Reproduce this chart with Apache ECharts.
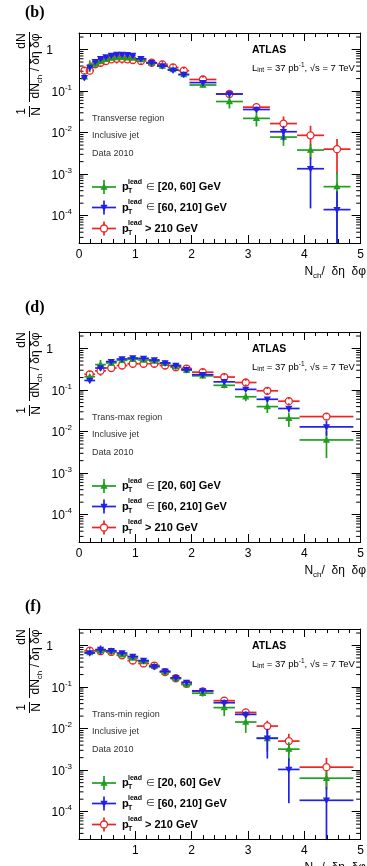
<!DOCTYPE html>
<html>
<head>
<meta charset="utf-8">
<script src="https://cdn.jsdelivr.net/npm/echarts@6/dist/echarts.min.js"></script>
<style>html,body{margin:0;padding:0;background:#fff}#chart{width:367px;height:866px}</style>
</head>
<body>
<div id="chart"></div>
<script>
// 数据：三个区域（transverse / trans-max / trans-min），三个 pT lead 区间
var transX = [0.096, 0.191, 0.287, 0.382, 0.478, 0.573, 0.669, 0.764, 0.860, 0.955, 1.10, 1.29, 1.48, 1.67, 1.86, 2.20, 2.67, 3.15, 3.63, 4.11, 4.58];
var transHalfW = [0.048, 0.048, 0.048, 0.048, 0.048, 0.048, 0.048, 0.048, 0.048, 0.048, 0.096, 0.096, 0.096, 0.096, 0.096, 0.239, 0.239, 0.239, 0.239, 0.239, 0.239];
var transGreen = [0.22, 0.42, 0.45, 0.52, 0.58, 0.62, 0.64, 0.65, 0.63, 0.62, 0.57, 0.47, 0.40, 0.33, 0.25, 0.14, 0.056, 0.022, 0.0078, 0.0038, 0.0005];
var transGreenErr = [0.04, 0.13, 0.08, 0.08, 0.08, 0.08, 0.08, 0.07, 0.07, 0.06, 0.05, 0.04, 0.03, 0.03, 0.03, 0.02, 0.018, 0.008, 0.003, 0.0015, 0.0006];
var transBlue = [0.21, 0.37, 0.51, 0.60, 0.66, 0.72, 0.76, 0.76, 0.75, 0.72, 0.60, 0.48, 0.40, 0.32, 0.25, 0.16, 0.085, 0.036, 0.0105, 0.00135, 0.00014];
var transBlueErr = [0.02, 0.04, 0.04, 0.04, 0.04, 0.05, 0.05, 0.05, 0.05, 0.05, 0.04, 0.03, 0.03, 0.03, 0.03, 0.015, 0.01, 0.006, 0.004, 0.0012, 0.00025];
var transRed = [0.31, 0.31, 0.44, 0.48, 0.53, 0.58, 0.60, 0.60, 0.58, 0.56, 0.53, 0.48, 0.44, 0.37, 0.31, 0.19, 0.085, 0.041, 0.0165, 0.0086, 0.004];
var transRedErr = [0.04, 0.06, 0.06, 0.07, 0.08, 0.1, 0.14, 0.14, 0.1, 0.08, 0.06, 0.04, 0.04, 0.04, 0.03, 0.02, 0.012, 0.008, 0.008, 0.006, 0.003];

var sideX = [0.191, 0.382, 0.573, 0.764, 0.955, 1.146, 1.337, 1.528, 1.719, 1.910, 2.196, 2.578, 2.960, 3.343, 3.725, 4.393];
var sideHalfW = [0.0955, 0.0955, 0.0955, 0.0955, 0.0955, 0.0955, 0.0955, 0.0955, 0.0955, 0.0955, 0.191, 0.191, 0.191, 0.191, 0.191, 0.478];

var maxGreen = [0.21, 0.41, 0.45, 0.52, 0.55, 0.53, 0.50, 0.44, 0.37, 0.30, 0.22, 0.13, 0.069, 0.040, 0.021, 0.0063];
var maxGreenErr = [0.03, 0.12, 0.06, 0.06, 0.06, 0.06, 0.05, 0.05, 0.04, 0.04, 0.03, 0.02, 0.015, 0.012, 0.008, 0.004];
var maxBlue = [0.17, 0.34, 0.485, 0.56, 0.59, 0.58, 0.53, 0.45, 0.39, 0.31, 0.235, 0.158, 0.104, 0.060, 0.036, 0.013];
var maxBlueErr = [0.02, 0.04, 0.04, 0.04, 0.04, 0.04, 0.04, 0.03, 0.03, 0.03, 0.02, 0.015, 0.01, 0.008, 0.006, 0.005];
var maxRed = [0.24, 0.29, 0.34, 0.39, 0.43, 0.43, 0.43, 0.39, 0.355, 0.33, 0.27, 0.206, 0.152, 0.096, 0.054, 0.023];
var maxRedErr = [0.03, 0.07, 0.06, 0.06, 0.07, 0.07, 0.06, 0.05, 0.04, 0.04, 0.03, 0.02, 0.015, 0.01, 0.006, 0.003];

var minGreen = [0.68, 0.75, 0.72, 0.60, 0.50, 0.41, 0.32, 0.23, 0.16, 0.115, 0.071, 0.032, 0.0144, 0.0058, 0.0032, 0.00064];
var minGreenErr = [0.05, 0.08, 0.06, 0.06, 0.05, 0.04, 0.03, 0.03, 0.02, 0.015, 0.012, 0.012, 0.0065, 0.003, 0.0015, 0.0003];
var minBlue = [0.66, 0.80, 0.75, 0.66, 0.545, 0.435, 0.31, 0.24, 0.167, 0.13, 0.081, 0.042, 0.022, 0.0059, 0.00104, 0.000188];
var minBlueErr = [0.04, 0.2, 0.05, 0.05, 0.04, 0.03, 0.03, 0.03, 0.02, 0.015, 0.01, 0.008, 0.004, 0.004, 0.00088, 0.0002];
var minRed = [0.75, 0.73, 0.70, 0.58, 0.435, 0.37, 0.33, 0.23, 0.163, 0.12, 0.079, 0.047, 0.0245, 0.0115, 0.005, 0.00118];
var minRedErr = [0.06, 0.12, 0.08, 0.08, 0.06, 0.05, 0.04, 0.03, 0.025, 0.02, 0.012, 0.008, 0.005, 0.004, 0.0025, 0.0008];

var panelTags = ['(b)', '(d)', '(f)'];
var panelTagY = [13, 308, 607];
var regionNames = ['Transverse region', 'Trans-max region', 'Trans-min region'];
var legendTexts = ['[20, 60] GeV', '[60, 210] GeV', '> 210 GeV'];
var xTickLabels = ['0', '1', '2', '3', '4', '5'];

var Y_MIN = 2.2e-5, Y_MAX = 2.5;
var GREEN = '#1f9e1f', BLUE = '#2020e8', RED = '#ee2424';
var FONT = '"Liberation Sans", Arial, Helvetica, sans-serif';
var tops = [33, 332, 629];
var GH = 210, GL = 79, GW = 283;

var myChart = echarts.init(document.getElementById('chart'));

var panels = [
    {x: transX, w: transHalfW, g: transGreen, ge: transGreenErr, b: transBlue, be: transBlueErr, r: transRed, re: transRedErr},
    {x: sideX, w: sideHalfW, g: maxGreen, ge: maxGreenErr, b: maxBlue, be: maxBlueErr, r: maxRed, re: maxRedErr},
    {x: sideX, w: sideHalfW, g: minGreen, ge: minGreenErr, b: minBlue, be: minBlueErr, r: minRed, re: minRedErr}
];

function marker(kind, cx, cy, color) {
    if (kind === 'up') {
        return {type: 'polygon', shape: {points: [[cx, cy - 3.8], [cx - 3.6, cy + 2.7], [cx + 3.6, cy + 2.7]]}, style: {fill: color}};
    }
    if (kind === 'down') {
        return {type: 'polygon', shape: {points: [[cx, cy + 3.8], [cx - 3.6, cy - 2.7], [cx + 3.6, cy - 2.7]]}, style: {fill: color}};
    }
    return {type: 'circle', shape: {cx: cx, cy: cy, r: 3.5}, style: {fill: 'none', stroke: color, lineWidth: 1.3}};
}

function seg(x1, y1, x2, y2, color) {
    return {type: 'line', shape: {x1: x1, y1: y1, x2: x2, y2: y2}, style: {stroke: color, lineWidth: 1.7}};
}

function dataSeries(pi, xs, hw, ys, es, color, kind, z) {
    var rows = xs.map(function (x, i) { return [x, x - hw[i], x + hw[i], ys[i], es[i]]; });
    return {
        type: 'custom', xAxisIndex: pi * 2, yAxisIndex: pi * 2, z: z,
        data: rows,
        renderItem: function (params, api) {
            var cs = params.coordSys;
            var x = api.value(0), y = api.value(3), e = api.value(4);
            var p = api.coord([x, y]);
            var xl = api.coord([api.value(1), y])[0], xr = api.coord([api.value(2), y])[0];
            var hiY = Math.max(api.coord([x, y + e])[1], cs.y);
            var loY = (y - e) > Y_MIN ? api.coord([x, y - e])[1] : cs.y + cs.height;
            var gap = kind === 'circle' ? 3.5 : 0;
            return {type: 'group', children: [
                seg(xl, p[1], p[0] - gap, p[1], color),
                seg(p[0] + gap, p[1], xr, p[1], color),
                seg(p[0], hiY, p[0], p[1] - gap, color),
                seg(p[0], p[1] + gap, p[0], loY, color),
                marker(kind, p[0], p[1], color)
            ]};
        }
    };
}

// 对数轴的小刻度 2..9
var minorVals = [];
for (var k = -5; k <= 0; k++) {
    for (var m = 2; m <= 9; m++) {
        var v = m * Math.pow(10, k);
        if (v > Y_MIN && v < Y_MAX) minorVals.push(v);
    }
}

function minorSeries(pi) {
    return {
        type: 'custom', xAxisIndex: pi * 2, yAxisIndex: pi * 2, z: 1, silent: true,
        data: minorVals.map(function (v) { return [0, v]; }),
        renderItem: function (params, api) {
            var cs = params.coordSys;
            var py = api.coord([0, api.value(1)])[1];
            return {type: 'group', children: [
                {type: 'line', shape: {x1: cs.x, y1: py, x2: cs.x + 4.5, y2: py}, style: {stroke: '#000', lineWidth: 1}},
                {type: 'line', shape: {x1: cs.x + cs.width - 4.5, y1: py, x2: cs.x + cs.width, y2: py}, style: {stroke: '#000', lineWidth: 1}}
            ]};
        }
    };
}

var grids = [], xAxes = [], yAxes = [], series = [], graphics = [];
var lineStyle = {color: '#000', width: 1};

panels.forEach(function (pd, i) {
    var top = tops[i];
    grids.push({left: GL, top: top, width: GW, height: GH});
    ['bottom', 'top'].forEach(function (pos) {
        xAxes.push({
            gridIndex: i, type: 'value', min: 0, max: 5, interval: 1, position: pos,
            axisLine: {onZero: false, lineStyle: lineStyle},
            axisTick: {inside: true, length: 8, lineStyle: lineStyle},
            minorTick: {show: true, splitNumber: 5, length: 4, lineStyle: lineStyle},
            splitLine: {show: false},
            axisLabel: {
                show: pos === 'bottom', color: '#000', fontSize: 12, fontFamily: FONT, margin: 6,
                showMinLabel: i < 2,
                formatter: function (v) { return xTickLabels[Math.round(v)]; }
            }
        });
    });
    ['left', 'right'].forEach(function (pos) {
        yAxes.push({
            gridIndex: i, type: 'log', logBase: 10, min: Y_MIN, max: Y_MAX, position: pos,
            axisLine: {onZero: false, lineStyle: lineStyle},
            axisTick: {inside: true, length: 9, lineStyle: lineStyle},
            splitLine: {show: false},
            axisLabel: {
                show: pos === 'left', margin: 7, showMinLabel: false, showMaxLabel: false,
                formatter: function (v) {
                    var e = Math.round(Math.log(v) / Math.LN10);
                    if (e === 0) return '{b|1}{pad|}';
                    return '{b|10}{s|' + e + '}';
                },
                rich: {
                    b: {fontSize: 12, fontFamily: FONT, color: '#000', lineHeight: 15, verticalAlign: 'bottom'},
                    s: {fontSize: 8, fontFamily: FONT, color: '#000', lineHeight: 8, verticalAlign: 'top'},
                    pad: {width: 19}
                }
            }
        });
    });

    series.push(minorSeries(i));
    series.push(dataSeries(i, pd.x, pd.w, pd.r, pd.re, RED, 'circle', 3));
    series.push(dataSeries(i, pd.x, pd.w, pd.g, pd.ge, GREEN, 'up', 4));
    series.push(dataSeries(i, pd.x, pd.w, pd.b, pd.be, BLUE, 'down', 5));

    // 面板标签
    graphics.push({type: 'text', x: 25, y: panelTagY[i], style: {text: panelTags[i], font: 'bold 16px "Liberation Serif", "DejaVu Serif", serif', fill: '#000', verticalAlign: 'middle'}});

    // y 轴标题（旋转）
    var tc = top + 33;
    graphics.push({type: 'line', shape: {x1: 29.5, y1: top - 1, x2: 29.5, y2: top + 69}, style: {stroke: '#000', lineWidth: 1}});
    graphics.push({type: 'line', shape: {x1: 29.5, y1: top + 73, x2: 29.5, y2: top + 84}, style: {stroke: '#000', lineWidth: 1}});
    graphics.push({type: 'text', x: 22, y: top + 8, rotation: Math.PI / 2, style: {text: 'dN', font: '12px ' + FONT, fill: '#000', align: 'center', verticalAlign: 'middle'}});
    graphics.push({type: 'text', x: 37, y: tc, rotation: Math.PI / 2, style: {
        text: '{t|dN}{sb|ch}{t| / δη δφ}', align: 'center', verticalAlign: 'middle',
        rich: {t: {fontSize: 12, fontFamily: FONT, fill: '#000', lineHeight: 14, verticalAlign: 'top'}, sb: {fontSize: 8, fontFamily: FONT, fill: '#000', lineHeight: 14, verticalAlign: 'bottom'}}
    }});
    graphics.push({type: 'text', x: 22, y: top + 78.5, rotation: Math.PI / 2, style: {text: '1', font: '12px ' + FONT, fill: '#000', align: 'center', verticalAlign: 'middle'}});
    graphics.push({type: 'text', x: 37, y: top + 78.5, rotation: Math.PI / 2, style: {text: 'N', font: '12px ' + FONT, fill: '#000', align: 'center', verticalAlign: 'middle'}});

    // x 轴标题
    graphics.push({type: 'text', x: 366, y: top + GH + 30, style: {
        text: '{t|N}{sb|ch}{t|/  δη  δφ}', align: 'right', verticalAlign: 'middle',
        rich: {t: {fontSize: 12, fontFamily: FONT, fill: '#000', lineHeight: 14, verticalAlign: 'top'}, sb: {fontSize: 8, fontFamily: FONT, fill: '#000', lineHeight: 14, verticalAlign: 'bottom'}}
    }});

    // ATLAS 标签
    graphics.push({type: 'text', x: 252, y: top + 17, style: {text: 'ATLAS', font: 'bold 10.5px ' + FONT, fill: '#000', verticalAlign: 'middle'}});
    graphics.push({type: 'text', x: 252, y: top + 35, style: {
        text: '{t|L}{sb|int}{t| = 37 pb}{sp|-1}{t|, √s = 7 TeV}', verticalAlign: 'middle',
        rich: {
            t: {fontSize: 9.5, fontFamily: FONT, fill: '#000', lineHeight: 12, verticalAlign: 'middle'},
            sb: {fontSize: 6.5, fontFamily: FONT, fill: '#000', lineHeight: 6, verticalAlign: 'bottom'},
            sp: {fontSize: 6.5, fontFamily: FONT, fill: '#000', lineHeight: 6, verticalAlign: 'top'}
        }
    }});

    // 区域说明文字
    [regionNames[i], 'Inclusive jet', 'Data 2010'].forEach(function (t, j) {
        graphics.push({type: 'text', x: 92, y: top + [86, 103, 121][j], style: {text: t, font: '9px ' + FONT, fill: '#333', verticalAlign: 'middle'}});
    });

    // 图例
    var legendCols = [GREEN, BLUE, RED], legendKinds = ['up', 'down', 'circle'];
    [154, 174.5, 195.5].forEach(function (dy, j) {
        var ly = top + dy, c = legendCols[j], gap = j === 2 ? 3.5 : 0;
        graphics.push({type: 'group', children: [
            seg(92, ly, 104 - gap, ly, c), seg(104 + gap, ly, 116, ly, c),
            seg(104, ly - 7, 104, ly - gap, c), seg(104, ly + gap, 104, ly + 7, c),
            marker(legendKinds[j], 104, ly, c)
        ]});
        graphics.push({type: 'text', x: 122, y: ly, style: {text: 'p', font: 'bold 11px ' + FONT, fill: '#000', verticalAlign: 'middle'}});
        graphics.push({type: 'text', x: 128, y: ly - 5, style: {text: 'lead', font: 'bold 7px ' + FONT, fill: '#000', verticalAlign: 'middle'}});
        graphics.push({type: 'text', x: 128, y: ly + 4.5, style: {text: 'T', font: 'bold 7px ' + FONT, fill: '#000', verticalAlign: 'middle'}});
        var txt = j < 2 ? '{e|∈ }{t|' + legendTexts[j] + '}' : '{t|' + legendTexts[j] + '}';
        graphics.push({type: 'text', x: j < 2 ? 146 : 145, y: ly, style: {
            text: txt, verticalAlign: 'middle',
            rich: {e: {fontSize: 10, fontFamily: FONT, fill: '#333'}, t: {fontSize: 11, fontWeight: 'bold', fontFamily: FONT, fill: '#000'}}
        }});
    });
});

var option = {
    animation: false,
    grid: grids,
    xAxis: xAxes,
    yAxis: yAxes,
    series: series,
    graphic: graphics
};

myChart.setOption(option);
</script>
</body>
</html>
